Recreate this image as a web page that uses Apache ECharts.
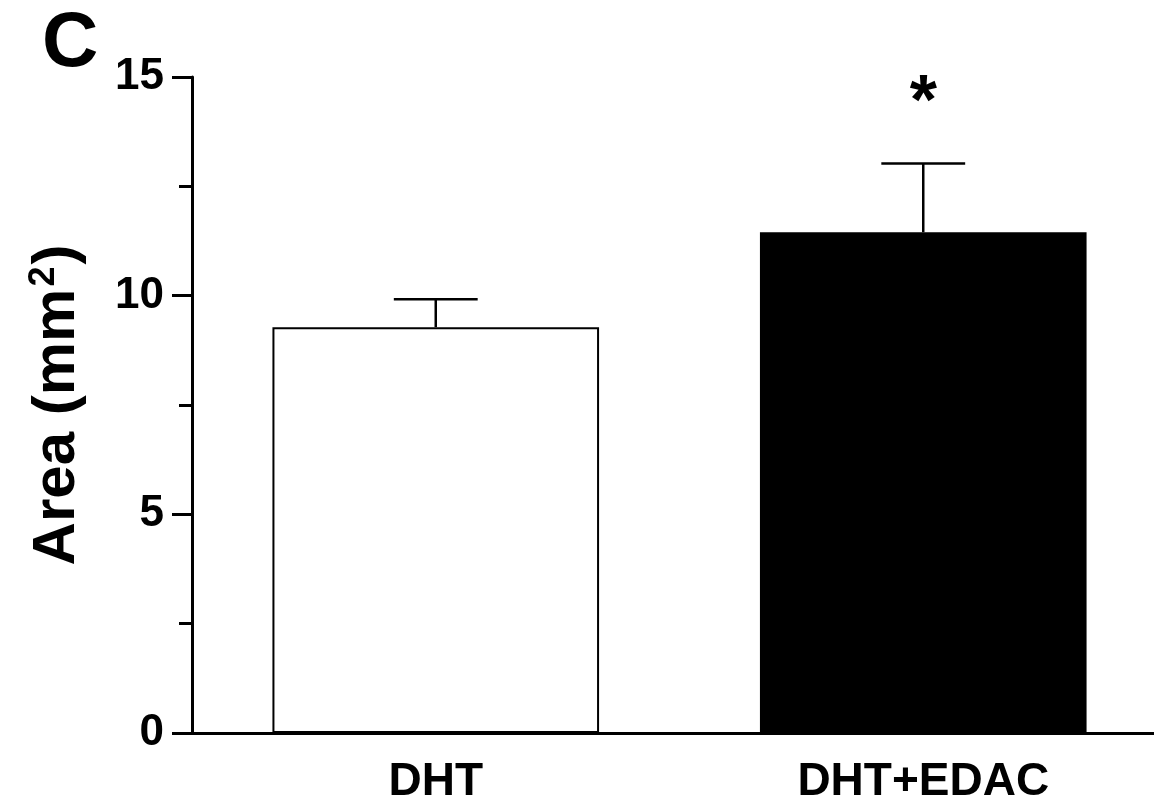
<!DOCTYPE html>
<html>
<head>
<meta charset="utf-8">
<script src="https://cdn.jsdelivr.net/npm/echarts@6/dist/echarts.min.js"></script>
<style>html,body{margin:0;padding:0;background:#fff}#c{width:1154px;height:808px}</style>
</head>
<body>
<div id="c"></div>
<script>
const categories = ['DHT', 'DHT+EDAC'];
const means = [9.28, 11.45];
const upperErr = [9.92, 13.02];
const sigMarks = ['', '*'];
const yTicks = [0, 5, 10, 15];

const FONT = '"Liberation Sans", Arial, sans-serif';
const chart = echarts.init(document.getElementById('c'), null, {renderer: 'canvas'});

const errData = categories.map((c, i) => [i, means[i], upperErr[i], sigMarks[i]]);

chart.setOption({
  animation: false,
  backgroundColor: '#fff',
  title: {
    text: 'C', left: 42, top: 5, padding: 0,
    textStyle: {fontFamily: FONT, fontWeight: 'bold', fontSize: 78, color: '#000'}
  },
  grid: {left: 192, right: -13, top: 77, bottom: 75, containLabel: false, outerBoundsMode: 'none'},
  xAxis: {
    type: 'category',
    data: categories,
    axisLine: {lineStyle: {color: '#000', width: 3}},
    axisTick: {alignWithLabel: true, length: 20, lineStyle: {color: '#000', width: 3}},
    axisLabel: {fontFamily: FONT, fontWeight: 'bold', fontSize: 46, color: '#000', margin: 26}
  },
  yAxis: {
    type: 'value',
    min: yTicks[0], max: yTicks[yTicks.length - 1], interval: 5,
    name: '{n|Area (mm}{s|2}{n|)}',
    nameLocation: 'middle',
    nameGap: 104,
    nameTextStyle: {
      rich: {
        n: {fontFamily: FONT, fontWeight: 'bold', fontSize: 60, color: '#000'},
        s: {fontFamily: FONT, fontWeight: 'bold', fontSize: 36, color: '#000', verticalAlign: 'top', padding: [0, 2, 26, 2]}
      }
    },
    splitLine: {show: false},
    axisLine: {show: true, lineStyle: {color: '#000', width: 3}},
    axisTick: {show: true, length: 20, lineStyle: {color: '#000', width: 3}},
    minorTick: {show: true, splitNumber: 2, length: 13, lineStyle: {color: '#000', width: 3}},
    minorSplitLine: {show: false},
    axisLabel: {fontFamily: FONT, fontWeight: 'bold', fontSize: 44, color: '#000', margin: 28}
  },
  series: [
    {
      type: 'bar',
      barWidth: '67%',
      data: means.map((v, i) => ({
        value: v,
        itemStyle: i === 0
          ? {color: '#fff', borderColor: '#000', borderWidth: 2}
          : {color: '#000', borderColor: '#000', borderWidth: 2}
      })),
      z: 2
    },
    {
      type: 'custom',
      data: errData,
      z: 3,
      renderItem: function (params, api) {
        const x = api.value(0);
        const base = api.coord([x, api.value(1)]);
        const top = api.coord([x, api.value(2)]);
        const half = api.size([1, 0])[0] * 0.086;
        const mark = sigMarks[params.dataIndex];
        const children = [
          {type: 'line', shape: {x1: base[0], y1: base[1], x2: top[0], y2: top[1]}, style: {stroke: '#000', lineWidth: 2.5}},
          {type: 'line', shape: {x1: top[0] - half, y1: top[1], x2: top[0] + half, y2: top[1]}, style: {stroke: '#000', lineWidth: 2.5}}
        ];
        if (mark) {
          children.push({
            type: 'text',
            style: {text: mark, x: top[0], y: top[1] - 24, align: 'center', verticalAlign: 'bottom',
              fontFamily: FONT, fontWeight: 'bold', fontSize: 70, fill: '#000'}
          });
        }
        return {type: 'group', children: children};
      }
    }
  ]
});
</script>
</body>
</html>
